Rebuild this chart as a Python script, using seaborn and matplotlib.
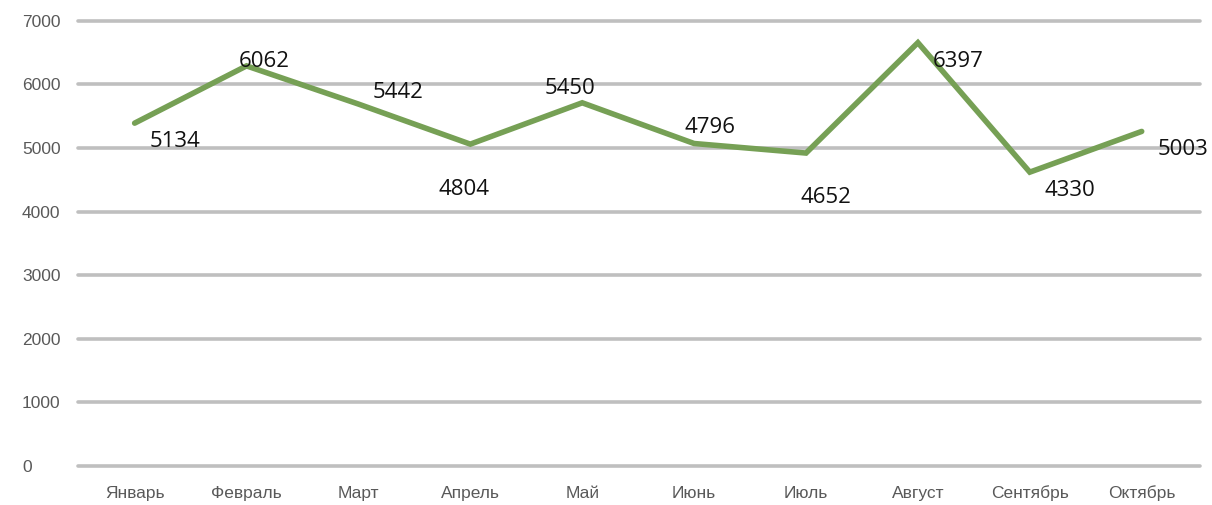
import pandas as pd
import matplotlib
matplotlib.use('Agg')
import matplotlib.pyplot as plt
import seaborn as sns

# Данные графика
months = ['Январь', 'Февраль', 'Март', 'Апрель', 'Май',
          'Июнь', 'Июль', 'Август', 'Сентябрь', 'Октябрь']
# положение линии, как она нарисована на картинке
line_values = [5390, 6290, 5690, 5060, 5710, 5070, 4920, 6655, 4620, 5260]
# подписи значений
label_values = [5134, 6062, 5442, 4804, 5450, 4796, 4652, 6397, 4330, 5003]
y_ticks = [0, 1000, 2000, 3000, 4000, 5000, 6000, 7000]

# смещения подписей в пикселях (dx, dy)
label_offsets = [(40, -18), (18, 4), (40, 12), (-6, -45), (-12, 14),
                 (16, 16), (20, -44), (40, -19), (40, -18), (41, -18)]

D = pd.DataFrame({'Месяц': months, 'Значение': line_values})

sns.set_style('white')
plt.rcParams['font.family'] = ['Liberation Sans', 'DejaVu Sans']

fig = plt.figure(figsize=(12.12, 5.05), dpi=100)
ax = fig.add_axes([0.064, 0.077, 0.926, 0.882])

sns.lineplot(data=D, x='Месяц', y='Значение', sort=False, color='#76a055',
             linewidth=4, ax=ax, solid_joinstyle='miter')

for i, (val, (dx, dy)) in enumerate(zip(label_values, label_offsets)):
    ax.annotate(str(val), xy=(i, line_values[i]), xytext=(dx, dy),
                textcoords='offset pixels', ha='center', va='center',
                fontsize=16, color='#111111', family=['Open Sans', 'DejaVu Sans'])

ax.set_ylim(0, 7000)
ax.set_xlim(-0.51, 9.52)
ax.set_yticks(y_ticks)
ax.yaxis.grid(True, color='#bfbfbf', linewidth=2.6)
for gl in ax.get_ygridlines():
    gl.set_clip_on(False)
ax.set_axisbelow(True)
for s in ax.spines.values():
    s.set_visible(False)
ax.tick_params(axis='both', length=0, labelsize=12.5, labelcolor='#595959')
ax.tick_params(axis='y', pad=40)
for lbl in ax.get_yticklabels():
    lbl.set_horizontalalignment('left')
ax.tick_params(axis='x', pad=14)
ax.set_xlabel('')
ax.set_ylabel('')

fig.savefig('out.png', dpi=100)
